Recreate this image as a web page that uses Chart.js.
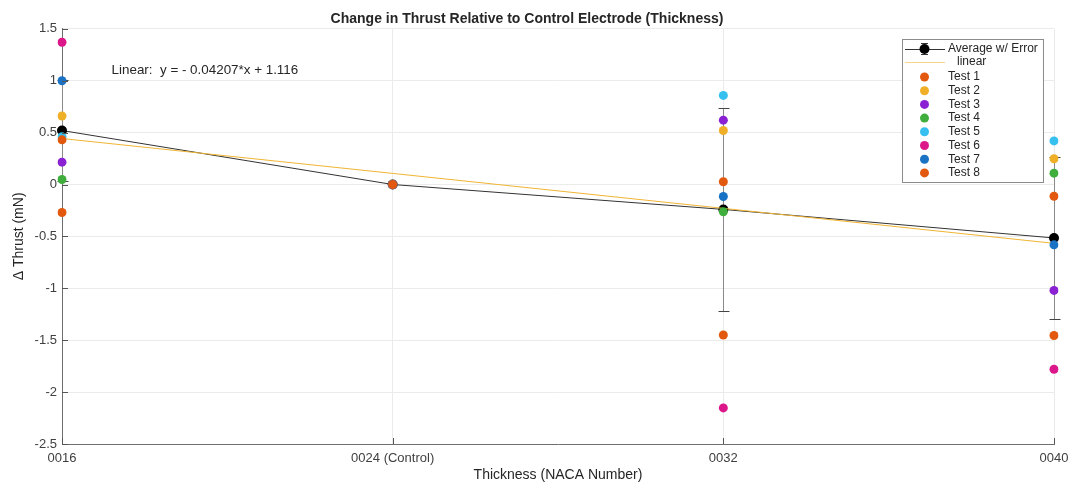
<!DOCTYPE html>
<html>
<head>
<meta charset="utf-8">
<script src="https://cdn.jsdelivr.net/npm/chart.js@4/dist/chart.umd.min.js"></script>
<style>
  body { margin: 0; background: #fff; }
  #wrap { width: 1069px; height: 482px; }
</style>
</head>
<body>
<div id="wrap"><canvas id="thrustChart"></canvas></div>
<script>
const categories = ["0016", "0024 (Control)", "0032", "0040"];
const yTicks = [1.5, 1, 0.5, 0, -0.5, -1, -1.5, -2, -2.5];

const average = [0.52, 0, -0.24, -0.515];
const averageErr = [0.49, 0, 0.98, 0.78];
const linearFit = [0.443, 0.107, -0.230, -0.567];

const test1 = [-0.27, 0, -1.45, -1.455];
const test2 = [0.66, 0, 0.52, 0.248];
const test3 = [0.215, 0, 0.62, -1.02];
const test4 = [0.048, 0, -0.263, 0.109];
const test5 = [0.46, 0, 0.858, 0.42];
const test6 = [1.37, 0, -2.152, -1.78];
const test7 = [1.0, 0, -0.116, -0.581];
const test8 = [0.43, 0, 0.026, -0.113];

const testNames = ["Test 1", "Test 2", "Test 3", "Test 4", "Test 5", "Test 6", "Test 7", "Test 8"];
const testSeries = [test1, test2, test3, test4, test5, test6, test7, test8];
const testColors = ["#E2580F", "#EFB027", "#8A22D4", "#3FAE3C", "#35C0EF", "#DC178A", "#1A72C5", "#E2580F"];

const fitText = "Linear:  y = - 0.04207*x + 1.116";
const font = "'Liberation Sans', Arial, sans-serif";

const datasets = [
    {
        label: "Average w/ Error",
        data: average,
        borderColor: "#333333",
        backgroundColor: "#000000",
        borderWidth: 1,
        pointRadius: 5,
        pointBorderWidth: 0,
        order: 20,
    },
    {
        label: "linear",
        data: linearFit,
        borderColor: "#F0B434",
        borderWidth: 1,
        pointRadius: 0,
        order: 15,
    },
];
testSeries.forEach((vals, i) => {
    datasets.push({
        label: testNames[i],
        data: vals,
        showLine: false,
        backgroundColor: testColors[i],
        borderColor: testColors[i],
        pointRadius: 4.5,
        pointBorderWidth: 0,
        order: 9 - i,
    });
});

// error bars, inward ticks, fit label and legend box
const extras = {
    id: "extras",
    beforeDatasetsDraw(chart) {
        const ctx = chart.ctx;
        const x = chart.scales.x, y = chart.scales.y;
        ctx.save();
        ctx.lineWidth = 1;
        average.forEach((v, i) => {
            if (!averageErr[i]) return;
            const px = Math.round(x.getPixelForValue(i)) + 0.5;
            const top = Math.round(y.getPixelForValue(v + averageErr[i])) + 0.5;
            const bot = Math.round(y.getPixelForValue(v - averageErr[i])) + 0.5;
            ctx.strokeStyle = "#8a8a8a";
            ctx.beginPath();
            ctx.moveTo(px, top); ctx.lineTo(px, bot);
            ctx.stroke();
            ctx.strokeStyle = "#444444";
            ctx.beginPath();
            ctx.moveTo(px - 5, top); ctx.lineTo(px + 6, top);
            ctx.moveTo(px - 5, bot); ctx.lineTo(px + 6, bot);
            ctx.stroke();
        });
        ctx.restore();
    },
    afterDraw(chart) {
        const ctx = chart.ctx;
        const x = chart.scales.x, y = chart.scales.y;
        const area = chart.chartArea;
        ctx.save();
        // inward tick marks
        ctx.strokeStyle = "#555555";
        ctx.lineWidth = 1;
        ctx.beginPath();
        yTicks.forEach(t => {
            const py = Math.round(y.getPixelForValue(t)) + 0.5;
            ctx.moveTo(area.left, py); ctx.lineTo(area.left + 6, py);
        });
        categories.forEach((c, i) => {
            const px = Math.round(x.getPixelForValue(i)) + 0.5;
            ctx.moveTo(px, area.bottom); ctx.lineTo(px, area.bottom - 6);
        });
        ctx.stroke();

        // fit equation
        ctx.fillStyle = "#262626";
        ctx.font = "13.4px " + font;
        ctx.textAlign = "left";
        ctx.textBaseline = "middle";
        ctx.fillText(fitText, x.getPixelForValue(0.15), y.getPixelForValue(1.1));

        // legend box
        const bx = 902, by = 39, bw = 141, bh = 143;
        ctx.fillStyle = "#ffffff";
        ctx.fillRect(bx, by, bw, bh);
        ctx.strokeStyle = "#8c8c8c";
        ctx.strokeRect(bx + 0.5, by + 0.5, bw, bh);
        ctx.font = "12px " + font;
        ctx.fillStyle = "#262626";

        let ry = 49;
        ctx.strokeStyle = "#333333";
        ctx.beginPath();
        ctx.moveTo(905, ry + 0.5); ctx.lineTo(945, ry + 0.5);
        ctx.moveTo(924.5, ry - 5); ctx.lineTo(924.5, ry + 5);
        ctx.moveTo(921, ry - 5.5); ctx.lineTo(928, ry - 5.5);
        ctx.moveTo(921, ry + 5.5); ctx.lineTo(928, ry + 5.5);
        ctx.stroke();
        ctx.fillStyle = "#000000";
        ctx.beginPath(); ctx.arc(924.5, ry, 5, 0, Math.PI * 2); ctx.fill();
        ctx.fillStyle = "#262626";
        ctx.fillText("Average w/ Error", 948, ry);

        ry = 62;
        ctx.strokeStyle = "#F5D58A";
        ctx.beginPath();
        ctx.moveTo(905, ry + 0.5); ctx.lineTo(945, ry + 0.5);
        ctx.stroke();
        ctx.fillText("linear", 957, ry);

        testNames.forEach((name, i) => {
            const ty = 77 + i * 13.7;
            ctx.fillStyle = testColors[i];
            ctx.beginPath(); ctx.arc(924.5, ty, 4.5, 0, Math.PI * 2); ctx.fill();
            ctx.fillStyle = "#262626";
            ctx.fillText(name, 948, ty);
        });
        ctx.restore();
    },
};

new Chart(document.getElementById("thrustChart"), {
    type: "line",
    data: { labels: categories, datasets: datasets },
    plugins: [extras],
    options: {
        responsive: true,
        maintainAspectRatio: false,
        animation: false,
        layout: { padding: { left: 0, right: 15, top: 0, bottom: 0 } },
        plugins: {
            legend: { display: false },
            tooltip: { enabled: false },
            title: {
                display: true,
                text: "Change in Thrust Relative to Control Electrode (Thickness)",
                color: "#262626",
                font: { family: font, size: 14, weight: "bold" },
                padding: { top: 11, bottom: 1 },
            },
        },
        scales: {
            x: {
                type: "category",
                offset: false,
                afterFit: s => { s.height = 38; s.paddingLeft = 0; s.paddingRight = 0; },
                grid: { color: "#ebebeb", drawTicks: false, offset: false },
                border: { color: "#6e6e6e" },
                ticks: { color: "#404040", font: { family: font, size: 13 }, padding: 7, maxRotation: 0 },
                title: {
                    display: true,
                    text: "Thickness (NACA Number)",
                    color: "#262626",
                    font: { family: font, size: 14 },
                    padding: { top: 0, bottom: -2 },
                },
            },
            y: {
                min: -2.5,
                max: 1.5,
                afterFit: s => { s.width = 62; },
                afterBuildTicks: s => { s.ticks = yTicks.map(v => ({ value: v })); },
                grid: { color: "#ebebeb", drawTicks: false },
                border: { color: "#6e6e6e" },
                ticks: {
                    color: "#404040",
                    font: { family: font, size: 13 },
                    padding: 5,
                    callback: v => String(v),
                },
                title: {
                    display: true,
                    text: "Δ Thrust (mN)",
                    color: "#262626",
                    font: { family: font, size: 14 },
                    padding: { top: 11, bottom: 0 },
                },
            },
        },
    },
});
</script>
</body>
</html>
